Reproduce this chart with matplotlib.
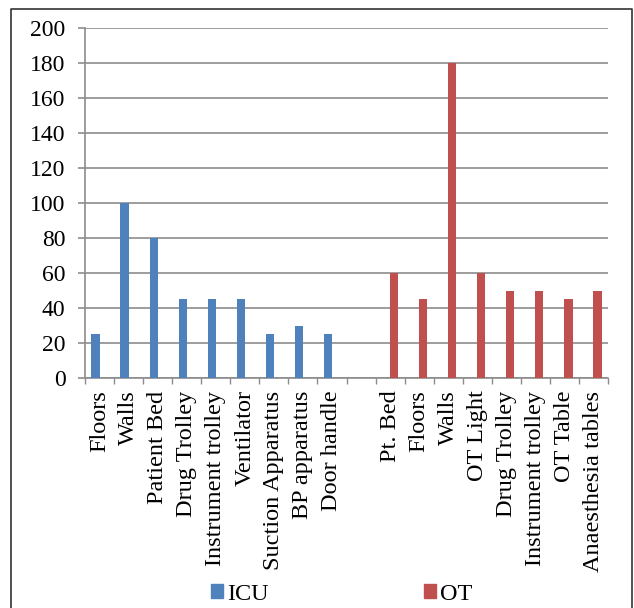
import matplotlib.pyplot as plt
from matplotlib.lines import Line2D
from matplotlib.patches import Patch
import numpy as np

plt.rcParams['font.family'] = ['Liberation Serif', 'DejaVu Serif']

categories = ['Floors', 'Walls', 'Patient Bed', 'Drug Trolley', 'Instrument trolley',
              'Ventilator', 'Suction Apparatus', 'BP apparatus', 'Door handle', '',
              'Pt. Bed', 'Floors', 'Walls', 'OT Light', 'Drug Trolley',
              'Instrument trolley', 'OT Table', 'Anaesthesia tables']
icu = [25, 100, 80, 45, 45, 45, 25, 30, 25, None, None, None, None, None, None, None, None, None]
ot = [None, None, None, None, None, None, None, None, None, None, 60, 45, 180, 60, 50, 50, 45, 50]

ICU_COLOR = '#4F81BD'
OT_COLOR = '#C0504D'
GRID = '#8C8C8C'

fig = plt.figure(figsize=(6.34, 6.08), dpi=100)
ax = fig.add_axes([85 / 634, 1 - 378 / 608, (608 - 85) / 634, (378 - 28) / 608])

x = np.arange(len(categories))
w = 0.28
icu_vals = np.array([np.nan if v is None else v for v in icu], dtype=float)
ot_vals = np.array([np.nan if v is None else v for v in ot], dtype=float)
ax.bar(x - w / 2, icu_vals, width=w, color=ICU_COLOR, zorder=3)
ax.bar(x + w / 2, ot_vals, width=w, color=OT_COLOR, zorder=3)

ax.set_xlim(-0.5, len(categories) - 0.5)
ax.set_ylim(0, 200)
ax.set_yticks(range(0, 201, 20))
ax.yaxis.grid(True, color=GRID, linewidth=1.2, zorder=0)

ax.set_xticks(x)
ax.set_xticklabels(categories, rotation=90, fontsize=17.5)
ax.set_xticks(np.arange(-0.5, len(categories), 1), minor=True)
ax.tick_params(axis='x', which='major', length=0, pad=9)
ax.tick_params(axis='x', which='minor', length=4, color=GRID, width=1)
ax.tick_params(axis='y', length=5, color=GRID, width=1.2, labelsize=17, pad=9)

for side in ['top', 'right']:
    ax.spines[side].set_visible(False)
for side in ['left', 'bottom']:
    ax.spines[side].set_color(GRID)
    ax.spines[side].set_linewidth(1.2)

# outer frame
fx0, fx1, fy1 = 11 / 634, 632 / 634, 1 - 9 / 608
fig.add_artist(Line2D([fx0, fx0, fx1, fx1], [0, fy1, fy1, 0], transform=fig.transFigure,
                      color='#333333', linewidth=1.2))

handles = [Patch(color=ICU_COLOR), Patch(color=OT_COLOR)]
fig.legend(handles, ['ICU', 'OT'], loc='center', bbox_to_anchor=(341.5 / 634, 1 - 594 / 608),
           ncol=2, frameon=False, fontsize=17.5, handlelength=0.5, handleheight=0.5,
           handletextpad=0.16, columnspacing=6.4, borderpad=0)

fig.savefig('out.png', dpi=100)
